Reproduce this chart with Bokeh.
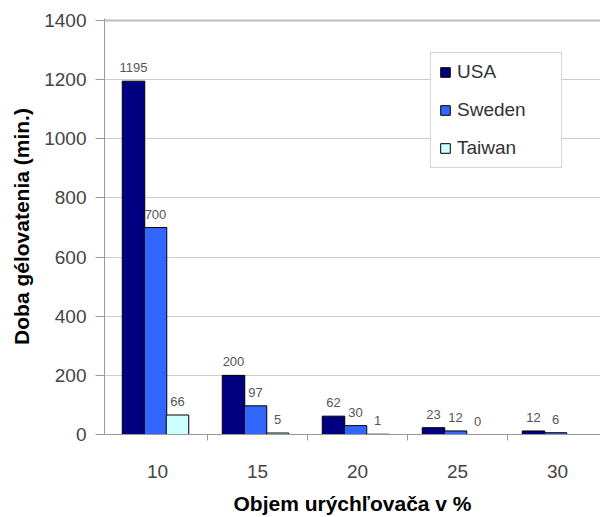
from bokeh.plotting import figure
from bokeh.models import ColumnDataSource, Range1d, FixedTicker, Legend, LegendItem, Span, LabelSet
from bokeh.core.properties import value
from bokeh.transform import dodge
from bokeh.embed import file_html
from bokeh.resources import INLINE

# ---- data ----
categories = ["10", "15", "20", "25", "30"]
series = ["USA", "Sweden", "Taiwan"]
usa = [1195, 200, 62, 23, 12]
sweden = [700, 97, 30, 12, 6]
taiwan = [66, 5, 1, 0, float("nan")]
y_ticks = [0, 200, 400, 600, 800, 1000, 1200, 1400]
x_title = "Objem urýchľovača v %"
y_title = "Doba gélovatenia (min.)"

colors = ["#000080", "#3366ff", "#ccffff"]
offsets = [-0.24, -0.02, 0.20]
bar_w = 0.225
FONT = "Liberation Sans"

idx = list(range(len(categories)))
src = ColumnDataSource(dict(
    x=idx, USA=usa, Sweden=sweden, Taiwan=taiwan,
    lUSA=[str(v) for v in usa],
    lSweden=[str(v) for v in sweden],
    lTaiwan=[("" if v != v else str(v)) for v in taiwan],
))

p = figure(frame_width=496, frame_height=416, output_backend="svg", toolbar_location=None,
           x_range=Range1d(-0.53, 4.43), y_range=Range1d(0, 1407),
           min_border_left=104, min_border_right=0, min_border_top=18,
           min_border_bottom=78)
p.outline_line_color = None
p.background_fill_color = "white"

renderers = []
for s, c, o in zip(series, colors, offsets):
    r = p.vbar(x=dodge("x", o, range=p.x_range), top=s, width=bar_w, source=src,
               fill_color=c, line_color="black", line_width=1)
    renderers.append(r)
    lbl = LabelSet(x=dodge("x", o, range=p.x_range), y=s, text="l" + s, source=src,
                   text_align="center", text_baseline="alphabetic", y_offset=9,
                   text_font=value(FONT), text_font_size=value("13px"),
                   text_color=value("#555555"))
    p.add_layout(lbl)

# axes
p.xaxis.ticker = FixedTicker(ticks=idx, minor_ticks=[i + 0.5 for i in idx])
p.xaxis.major_label_overrides = {i: c for i, c in zip(idx, categories)}
p.xaxis.major_tick_out = 0
p.xaxis.major_tick_in = 0
p.xaxis.minor_tick_out = 6
p.xaxis.minor_tick_in = 0
p.xaxis.minor_tick_line_color = "#999999"
p.xaxis.axis_line_color = "#999999"
p.xaxis.major_label_standoff = 24
p.xaxis.axis_label = x_title
p.xaxis.axis_label_standoff = 11

p.yaxis.ticker = FixedTicker(ticks=y_ticks)
p.yaxis.major_tick_out = 9
p.yaxis.major_tick_in = 0
p.yaxis.minor_tick_line_color = None
p.yaxis.major_tick_line_color = "#999999"
p.yaxis.axis_line_color = "#999999"
p.yaxis.major_label_standoff = 9
p.yaxis.axis_label = y_title
p.yaxis.axis_label_standoff = 8

for ax in (p.xaxis, p.yaxis):
    ax.major_label_text_font = FONT
    ax.major_label_text_font_size = "19px"
    ax.major_label_text_color = "#444444"
    ax.axis_label_text_font = FONT
    ax.axis_label_text_font_size = "21px"
    ax.axis_label_text_font_style = "bold"
    ax.axis_label_text_color = "black"

p.xgrid.grid_line_color = None
p.ygrid.ticker = FixedTicker(ticks=y_ticks)
p.ygrid.grid_line_color = "#cccccc"
p.ygrid.grid_line_width = 1
p.add_layout(Span(location=y_ticks[-1], dimension="width", line_color="#bbbbbb", line_width=2))

legend = Legend(items=[LegendItem(label=s, renderers=[r]) for s, r in zip(series, renderers)],
                location=(326, 266), orientation="vertical",
                label_text_font=FONT, label_text_font_size="19px", label_text_color="#333333",
                glyph_width=12, glyph_height=12, label_height=20, label_standoff=6,
                spacing=16, padding=8, label_width=96,
                border_line_color="#aaaaaa", border_line_width=1,
                background_fill_color="white", background_fill_alpha=1.0)
p.add_layout(legend)

open("out.html", "w").write(file_html(p, INLINE))
